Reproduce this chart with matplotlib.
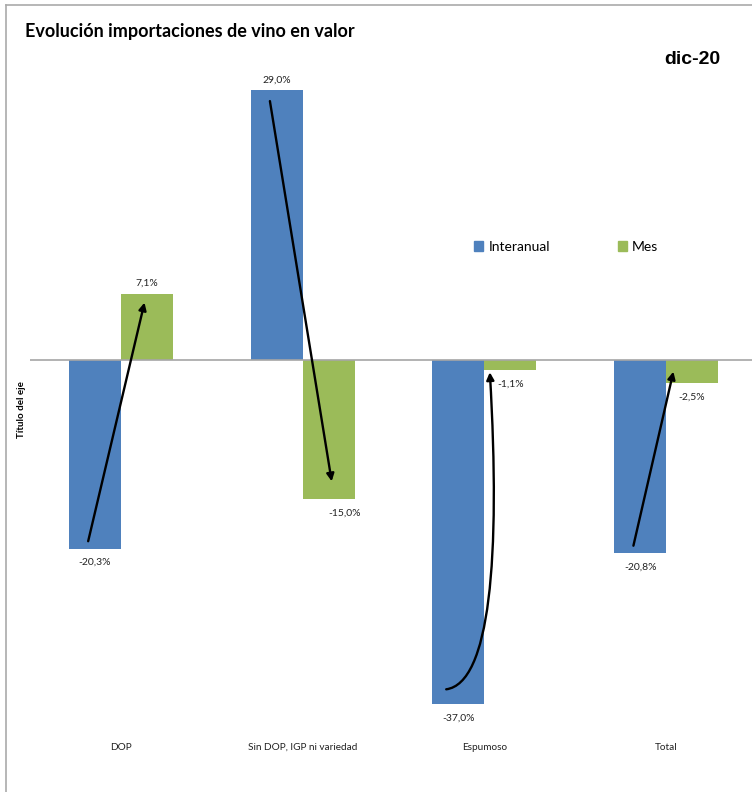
import matplotlib.pyplot as plt
import numpy as np
from matplotlib.patches import Patch, FancyArrowPatch
from matplotlib.path import Path
from matplotlib.lines import Line2D


categories = ['DOP', 'Sin DOP, IGP ni variedad', 'Espumoso', 'Total']
interanual = [-20.3, 29.0, -37.0, -20.8]
mes = [7.1, -15.0, -1.1, -2.5]

blue = '#4F81BD'
green = '#9BBB59'

plt.rcParams['font.family'] = ['Lato', 'DejaVu Sans']

fig = plt.figure(figsize=(7.52, 7.92), dpi=100)
W, H = 752, 792
ax = fig.add_axes([30 / W, 1 - 732 / H, 727 / W, (732 - 81) / H])

x = np.arange(len(categories))
w = 0.286
ax.bar(x - w / 2, interanual, w, color=blue, label='Interanual', zorder=2)
ax.bar(x + w / 2, mes, w, color=green, label='Mes', zorder=2)

ax.set_xlim(-0.5, 3.5)
ax.set_ylim(-40, 30)
ax.axhline(0, color='#A6A6A6', lw=1.2, zorder=3)

for s in ax.spines.values():
    s.set_visible(False)
ax.set_yticks([])
ax.set_xticks(x)
ax.set_xticklabels(categories, fontsize=7.2, color='#222222')
ax.tick_params(axis='x', length=0, pad=8)


def fmt(v):
    return f'{v:.1f}%'.replace('.', ',')


# data labels
for i in range(len(categories)):
    for xv, v, dx in [(x[i] - w / 2, interanual[i], 0), (x[i] + w / 2, mes[i], 0.09 if i == 1 else 0)]:
        off = 7.5 if v > 0 else -10
        ax.annotate(fmt(v), (xv + dx, v), xytext=(0, off), textcoords='offset points',
                    ha='center', va='center', fontsize=7.5, color='#222222')

# arrows from Interanual to Mes
arrow_kw = dict(arrowstyle='-|>', color='black', lw=1.7, mutation_scale=11,
                shrinkA=0, shrinkB=0)
tips = {0: 0.13, 1: 0.16, 3: 0.04}
for i, dx in tips.items():
    start = (x[i] - 0.18, interanual[i] * 0.96)
    end = (x[i] + dx, mes[i] * 0.87 if abs(mes[i]) > 5 else mes[i] * 0.5)
    ax.annotate('', xy=end, xytext=start, arrowprops=arrow_kw, zorder=4)

# curved arrow for Espumoso
i = 2
pts = [(x[i] - 0.21, interanual[i] * 0.957),
       (x[i] + 0.03, interanual[i] * 0.94),
       (x[i] + 0.09, interanual[i] * 0.58),
       (x[i] + 0.03, mes[i] * 1.2)]
curve = Path(pts, [Path.MOVETO, Path.CURVE4, Path.CURVE4, Path.CURVE4])
ax.add_patch(FancyArrowPatch(path=curve, **arrow_kw, zorder=4))

# legend
handles = [Patch(color=blue), Patch(color=green)]
ax.legend(handles, ['Interanual', 'Mes'], ncol=2, frameon=False, fontsize=10,
          loc='center left', bbox_to_anchor=(474 / W, 1 - 247 / H),
          bbox_transform=fig.transFigure, borderpad=0, borderaxespad=0,
          handlelength=0.68, handleheight=0.68, handletextpad=0.35, columnspacing=4.9)

fig.text(25 / W, 1 - 32 / H, 'Evolución importaciones de vino en valor',
         fontsize=13, fontweight='bold', ha='left', va='center')
fig.text(692 / W, 1 - 60 / H, 'dic-20', fontsize=14, fontweight='bold',
         family='Liberation Sans', ha='center', va='center')
fig.text(22 / W, 1 - 410 / H, 'Título del eje', fontsize=7, fontweight='bold',
         rotation=90, ha='center', va='center')

# chart frame (only top and left visible)
fig.add_artist(Line2D([6 / W, 6 / W], [0, 1 - 5 / H], color='#AAAAAA', lw=1.2))
fig.add_artist(Line2D([6 / W, 1], [1 - 5 / H, 1 - 5 / H], color='#AAAAAA', lw=1.2))

fig.savefig('out.png', dpi=100)
